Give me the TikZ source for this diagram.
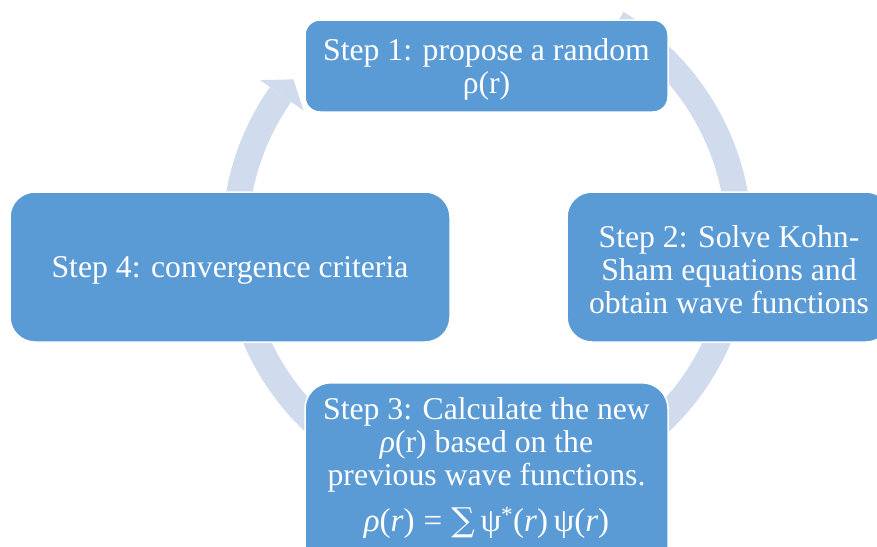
\documentclass[tikz,border=0pt]{standalone}
\usepackage{fontspec}
\setmainfont{Liberation Serif}
\newfontfamily\symfont{DejaVu Serif}
\definecolor{boxblue}{HTML}{5B9BD5}
\definecolor{ringblue}{HTML}{D0DCEE}
\begin{document}
\begin{tikzpicture}[x=1pt,y=1pt,
  stepbox/.style={draw=white, line width=1.5pt, fill=boxblue, inner sep=0pt},
  steptext/.style={text=white, align=center, inner sep=0pt,
    font=\fontsize{31.7}{33}\selectfont},
  ring/.style={draw=ringblue, line width=26pt, line cap=butt}]
\useasboundingbox (0,0) rectangle (877,-546);
\clip (0,0) rectangle (877,-546);
\fill[white] (0,0) rectangle (877,-546);
\coordinate (c) at (487,-239);
% cycle arrows
\draw[ring] ([shift={(c)}]59:252) arc[start angle=59, end angle=-5, radius=252];
\draw[ring] ([shift={(c)}]-10:252) arc[start angle=-10, end angle=-75, radius=252];
\draw[ring] ([shift={(c)}]-105:252) arc[start angle=-105, end angle=-170, radius=252];
\draw[ring] ([shift={(c)}]190:252) arc[start angle=190, end angle=145, radius=252];
\fill[ringblue] ([shift={(c)}]145:224) -- ([shift={(c)}]145:277) -- ([shift={(c)}]140.5:251) -- cycle;
% boxes
\node[stepbox, rounded corners=15pt, minimum width=363, minimum height=92] (s1) at (486.5,-66) {};
\node[stepbox, rounded corners=25pt, minimum width=324, minimum height=150] (s2) at (729,-267) {};
\node[stepbox, rounded corners=25pt, minimum width=440, minimum height=150] (s4) at (230,-267) {};
\node[stepbox, rounded corners=26pt, minimum width=363, minimum height=220, anchor=north] (s3) at (486.5,-382) {};
% texts
\node[steptext] (s1t) at ([yshift=-3pt]s1.center) {Step 1: propose a random\\ρ(r)};
\node[steptext] (s2t) at ([yshift=-3pt]s2.center) {Step 2: Solve Kohn-\\Sham equations and\\obtain wave functions};
\node[steptext] (s4t) at ([yshift=-3pt]s4.center) {Step 4: convergence criteria};
\node[steptext] (s3t) at (486.5,-468)
  {Step 3: Calculate the new\\\textit{ρ}(r) based on the\\previous wave functions.\\[13pt]
   {\fontsize{33}{33}\selectfont\textit{ρ}(\textit{r})\;=\;{\symfont ∑}\,ψ\textsuperscript{*}(\textit{r})\,ψ(\textit{r})}};
\end{tikzpicture}
\end{document}
